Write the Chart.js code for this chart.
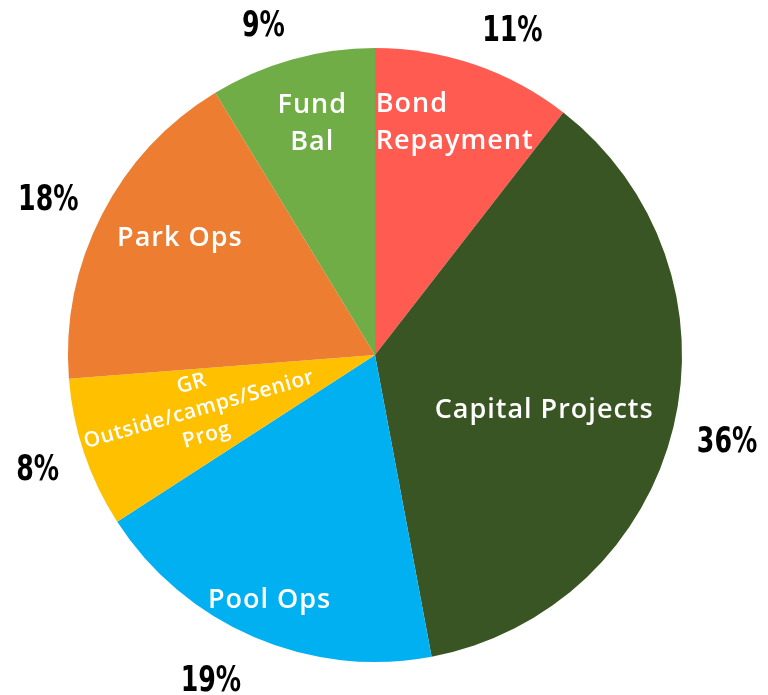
<!DOCTYPE html>
<html>
<head>
<meta charset="utf-8">
<script src="https://cdn.jsdelivr.net/npm/chart.js@4"></script>
<style>
html,body{margin:0;padding:0;background:#fff;}
#wrap{width:768px;height:695px;}
</style>
</head>
<body>
<div id="wrap"><canvas id="c" width="768" height="695"></canvas></div>
<script>
// ---- data ----
const categories = ['Bond Repayment', 'Capital Projects', 'Pool Ops', 'GR Outside/camps/Senior Prog', 'Park Ops', 'Fund Bal'];
const sliceLines = [['Bond', 'Repayment'], ['Capital Projects'], ['Pool Ops'], ['GR', 'Outside/camps/Senior', 'Prog'], ['Park Ops'], ['Fund', 'Bal']];
const shares = [10.5, 36.5, 18.8, 7.9, 17.5, 8.7];
const percentLabels = ['11%', '36%', '19%', '8%', '18%', '9%'];
const colors = ['#FF5B51', '#3A5524', '#00B0F0', '#FFC000', '#ED7D31', '#70AD47'];

// ---- label placement style (relative to each arc) ----
const innerStyle = [
  {f:0.80, da:0,   size:27, lh:37, align:'left', rot:0, ls:1},
  {f:0.58, da:4.6, size:27, lh:37, align:'center', rot:0, ls:1},
  {f:0.87, da:0,   size:27, lh:37, align:'center', rot:0, ls:1},
  {f:0.60, da:1.4, size:21, lh:27, align:'center', rot:-16, ls:0.6},
  {f:0.74, da:3.7, size:27, lh:37, align:'center', rot:0, ls:1},
  {f:0.78, da:0.5, size:27, lh:37, align:'center', rot:0, ls:1}
];
const outerStyle = [
  {f:1.149, da:4},
  {f:1.18, da:0},
  {f:1.184, da:3.6},
  {f:1.16, da:0},
  {f:1.18, da:-1.5},
  {f:1.135, da:-3}
];

const labelPlugin = {
  id: 'sliceLabels',
  afterDatasetsDraw(chart) {
    const ctx = chart.ctx;
    const arcs = chart.getDatasetMeta(0).data;
    arcs.forEach((arc, i) => {
      const p = arc.getProps(['x','y','startAngle','endAngle','outerRadius'], true);
      const mid = (p.startAngle + p.endAngle) / 2;
      // inner
      const s = innerStyle[i];
      const a = mid + s.da * Math.PI / 180;
      const cx = p.x + Math.cos(a) * p.outerRadius * s.f;
      const cy = p.y + Math.sin(a) * p.outerRadius * s.f;
      ctx.save();
      ctx.fillStyle = '#ffffff';
      ctx.font = '600 ' + s.size + 'px "Open Sans", "Noto Sans", sans-serif';
      if ('letterSpacing' in ctx) ctx.letterSpacing = s.ls + 'px';
      ctx.textBaseline = 'middle';
      ctx.translate(cx, cy);
      ctx.rotate(s.rot * Math.PI / 180);
      const lines = sliceLines[i];
      const maxW = Math.max(...lines.map(l => ctx.measureText(l).width));
      const y0 = -(lines.length - 1) * s.lh / 2;
      lines.forEach((l, k) => {
        if (s.align === 'left') {
          ctx.textAlign = 'left';
          ctx.fillText(l, -maxW / 2, y0 + k * s.lh);
        } else {
          ctx.textAlign = 'center';
          ctx.fillText(l, 0, y0 + k * s.lh);
        }
      });
      ctx.restore();
      // outer percentage
      const o = outerStyle[i];
      const b = mid + o.da * Math.PI / 180;
      const ox = p.x + Math.cos(b) * p.outerRadius * o.f;
      const oy = p.y + Math.sin(b) * p.outerRadius * o.f;
      ctx.save();
      ctx.fillStyle = '#000000';
      ctx.font = 'bold 36px "DejaVu Sans Condensed", "DejaVu Sans", sans-serif';
      ctx.textAlign = 'center';
      ctx.textBaseline = 'middle';
      ctx.translate(ox, oy + 2);
      ctx.scale(0.78, 1);
      ctx.fillText(percentLabels[i], 0, 0);
      ctx.restore();
    });
  }
};

new Chart(document.getElementById('c'), {
  type: 'pie',
  data: {
    labels: categories,
    datasets: [{
      data: shares,
      backgroundColor: colors,
      borderWidth: 0
    }]
  },
  options: {
    responsive: false,
    animation: false,
    layout: { padding: { left: 68, right: 86, top: 48, bottom: 33 } },
    plugins: {
      legend: { display: false },
      tooltip: { enabled: false }
    }
  },
  plugins: [labelPlugin]
});
</script>
</body>
</html>
